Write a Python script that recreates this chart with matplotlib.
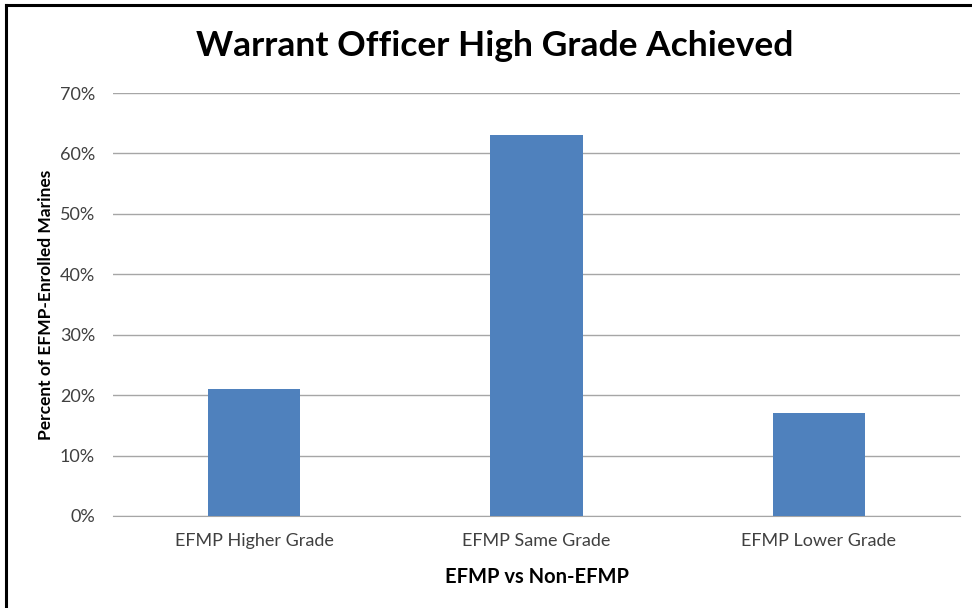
import numpy as np
import matplotlib.pyplot as plt
from matplotlib.ticker import PercentFormatter
from matplotlib.lines import Line2D

categories = ['EFMP Higher Grade', 'EFMP Same Grade', 'EFMP Lower Grade']
values = [0.21, 0.63, 0.17]
yticks = [0, 0.1, 0.2, 0.3, 0.4, 0.5, 0.6, 0.7]

plt.rcParams['font.family'] = ['Lato', 'DejaVu Sans']

fig = plt.figure(figsize=(9.72, 6.08), dpi=100)
ax = fig.add_axes([113/972, 1-516/608, (960-113)/972, (516-93)/608])

x = np.arange(len(categories))
ax.bar(x, values, width=0.326, color='#4F81BD', zorder=3)

ax.set_xlim(-0.5, len(categories)-0.5)
ax.set_ylim(0, 0.7)
ax.set_yticks(yticks)
ax.yaxis.set_major_formatter(PercentFormatter(1.0, decimals=0))
ax.set_xticks(x)
ax.set_xticklabels(categories)
ax.grid(axis='y', color='#a6a6a6', linewidth=1, zorder=0)
for s in ['top', 'right', 'left']:
    ax.spines[s].set_visible(False)
ax.spines['bottom'].set_color('#a6a6a6')
ax.tick_params(axis='both', length=0, labelsize=13, colors='#404040')
ax.tick_params(axis='y', pad=13)
ax.tick_params(axis='x', pad=12)

ax.set_xlabel('EFMP vs Non-EFMP', fontsize=14.5, fontweight='bold', labelpad=13)
ax.set_ylabel('Percent of EFMP-Enrolled Marines', fontsize=12.5, fontweight='bold', labelpad=4)
fig.text(495/972, 1-46/608, 'Warrant Officer High Grade Achieved', ha='center', va='center',
         fontsize=25.5, fontweight='bold')

# frame lines on left and top
fig.add_artist(Line2D([6/972, 6/972], [0, 1-5/608], color='black', linewidth=2.2, transform=fig.transFigure))
fig.add_artist(Line2D([6/972, 1], [1-5/608, 1-5/608], color='black', linewidth=2.2, transform=fig.transFigure))

fig.savefig('out.png', dpi=100)
